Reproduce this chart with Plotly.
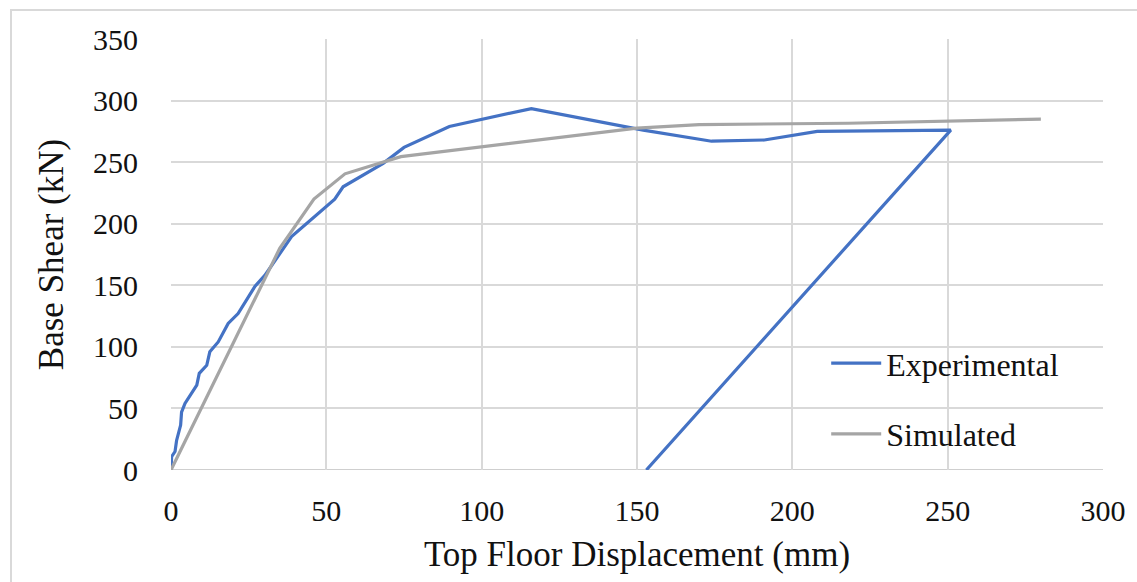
import plotly.graph_objects as go

exp_x = [0, 0.2, 1.3, 1.8, 3.1, 3.4, 4.5, 8.3, 9.1, 11.5, 12.5, 15.2, 18.4, 21.6, 27, 30.2,
         38.8, 52.7, 55.4, 68.3, 75, 89.6, 116, 140, 152, 174, 191, 208, 251, 153]
exp_y = [0, 10.8, 15, 24, 36.5, 47, 54, 69, 78.5, 85, 96, 104, 119, 127, 149, 158,
         189.5, 220, 230, 249, 262, 279, 293.5, 281.6, 276, 267, 268, 275, 276, 0]

sim_x = [0, 35, 46, 56, 74, 150, 170, 218, 280]
sim_y = [0, 180, 220, 240.5, 254.5, 277.6, 280.5, 281.6, 285]

x_ticks = [0, 50, 100, 150, 200, 250, 300]
y_ticks = [0, 50, 100, 150, 200, 250, 300, 350]

FONT = "Liberation Serif"
TXT = dict(family=FONT, size=30, color="#111111")
LEG = dict(family=FONT, size=32, color="#111111")
TTL = dict(family=FONT, size=35, color="#111111")

fig = go.Figure()
fig.add_trace(go.Scatter(x=exp_x, y=exp_y, mode="lines", name="Experimental",
                         legendgroup="a",
                         line=dict(color="#4472C4", width=3.2)))
fig.add_trace(go.Scatter(x=sim_x, y=sim_y, mode="lines", name="Simulated",
                         legendgroup="b",
                         line=dict(color="#A5A5A5", width=3.2)))

fig.update_layout(
    width=1137, height=582,
    margin=dict(l=171, r=34, t=39, b=112),
    paper_bgcolor="white", plot_bgcolor="white",
    font=TXT,
    showlegend=True,
    legend=dict(x=0.703, y=0.165, xanchor="left", yanchor="middle",
                bgcolor="rgba(0,0,0,0)", font=LEG,
                tracegroupgap=26, itemwidth=50),
    xaxis=dict(range=[0, 300], tickvals=x_ticks, showgrid=True,
               gridcolor="#d9d9d9", gridwidth=1.5, zeroline=False,
               showline=False, ticks="", ticklabelstandoff=20, tickfont=TXT,
               title=dict(text="Top Floor Displacement (mm)", standoff=15, font=TTL)),
    yaxis=dict(range=[0, 350], tickvals=y_ticks, showgrid=True,
               gridcolor="#d9d9d9", gridwidth=1.5, zeroline=False,
               showline=False, ticks="", ticklabelstandoff=32, tickfont=TXT,
               title=dict(text="Base Shear (kN)", standoff=18, font=TTL)),
    shapes=[
        dict(type="line", xref="x", yref="y", x0=0, x1=300, y0=0, y1=0,
             line=dict(color="#bfbfbf", width=1.5), layer="below"),
        dict(type="rect", xref="paper", yref="paper",
             x0=(11 - 171) / 932, x1=1.1, y0=-0.4, y1=(470 - 10) / 431,
             line=dict(color="#d9d9d9", width=2), layer="below"),
    ],
)

fig.write_html("out.html")
